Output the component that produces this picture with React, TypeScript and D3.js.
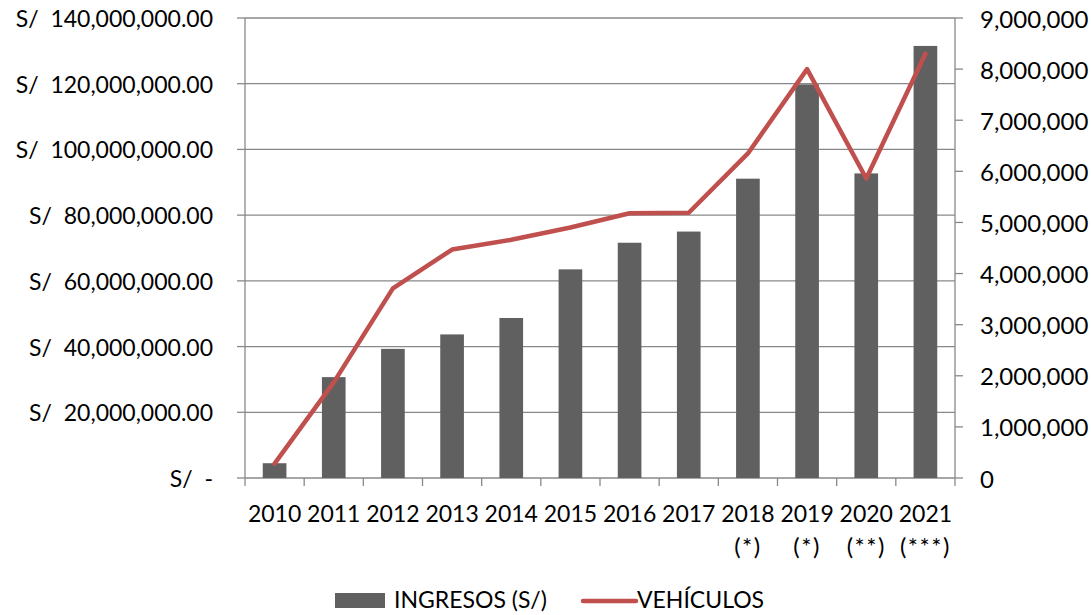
import React from "react";
import * as d3 from "d3";

const years = ["2010", "2011", "2012", "2013", "2014", "2015", "2016", "2017", "2018", "2019", "2020", "2021"];
const yearNotes = ["", "", "", "", "", "", "", "", "(*)", "(*)", "(**)", "(***)"];
const ingresos = [4.5e6, 30.7e6, 39.3e6, 43.7e6, 48.7e6, 63.5e6, 71.6e6, 75.0e6, 91.1e6, 119.8e6, 92.7e6, 131.5e6];
const vehiculos = [0.28e6, 1.87e6, 3.71e6, 4.47e6, 4.66e6, 4.9e6, 5.18e6, 5.19e6, 6.35e6, 8.0e6, 5.86e6, 8.3e6];
const leftTicks = [0, 20e6, 40e6, 60e6, 80e6, 100e6, 120e6, 140e6];
const rightTicks = [0, 1e6, 2e6, 3e6, 4e6, 5e6, 6e6, 7e6, 8e6, 9e6];
const seriesNames = ["INGRESOS (S/)", "VEHÍCULOS"];

const W = 1091;
const H = 615;
const M = { left: 245, right: 955, top: 18, bottom: 478 };
const FONT = "Lato, 'Open Sans', sans-serif";
const GRID = "#898989";
const BAR = "#606060";
const LINE = "#C0504D";

export default function App() {
  const x = d3.scaleBand<string>().domain(years).range([M.left, M.right]).paddingInner(0.6).paddingOuter(0.3);
  const xOuter = d3.scaleBand<string>().domain(years).range([M.left, M.right]);
  const yL = d3.scaleLinear().domain([0, 140e6]).range([M.bottom, M.top]);
  const yR = d3.scaleLinear().domain([0, 9e6]).range([M.bottom, M.top]);
  const fmtL = (v: number) => (v === 0 ? "S/  -" : "S/  " + d3.format(",.2f")(v));
  const fmtR = (v: number) => (v === 0 ? "0" : d3.format(",")(v));
  const line = d3
    .line<number>()
    .x((_, i) => (xOuter(years[i]) as number) + xOuter.bandwidth() / 2)
    .y((d) => yR(d));

  const boundaries = years.map((y) => xOuter(y) as number).concat([M.right]);

  return (
    <svg width={W} height={H} style={{ position: "absolute", left: 0, top: 0, background: "#fff" }} fontFamily={FONT}>
      {/* gridlines */}
      {leftTicks.map((t) => (
        <line key={"g" + t} x1={M.left} x2={M.right} y1={yL(t)} y2={yL(t)} stroke={GRID} strokeWidth={1.3} />
      ))}
      {/* left axis */}
      <line x1={M.left} x2={M.left} y1={M.top} y2={M.bottom} stroke={GRID} strokeWidth={1.3} />
      {leftTicks.map((t) => (
        <g key={"l" + t}>
          <line x1={M.left - 8} x2={M.left} y1={yL(t)} y2={yL(t)} stroke={GRID} strokeWidth={1.3} />
          <text x={213} y={yL(t)} textAnchor="end" dominantBaseline="central" fontSize={23} fill="#000" style={{ whiteSpace: "pre" }}>
            {fmtL(t)}
          </text>
        </g>
      ))}
      {/* right axis */}
      <line x1={M.right} x2={M.right} y1={M.top} y2={M.bottom} stroke={GRID} strokeWidth={1.3} />
      {rightTicks.map((t) => (
        <g key={"r" + t}>
          <line x1={M.right} x2={M.right + 8} y1={yR(t)} y2={yR(t)} stroke={GRID} strokeWidth={1.3} />
          <text x={980} y={yR(t)} textAnchor="start" dominantBaseline="central" fontSize={24} fill="#000">
            {fmtR(t)}
          </text>
        </g>
      ))}
      {/* bottom ticks */}
      {boundaries.map((b, i) => (
        <line key={"b" + i} x1={b} x2={b} y1={M.bottom} y2={M.bottom + 8} stroke={GRID} strokeWidth={1.3} />
      ))}
      {/* bars */}
      {ingresos.map((v, i) => (
        <rect key={"bar" + i} x={x(years[i])} y={yL(v)} width={x.bandwidth()} height={M.bottom - yL(v)} fill={BAR} />
      ))}
      {/* line */}
      <path d={line(vehiculos) || ""} fill="none" stroke={LINE} strokeWidth={4.5} strokeLinejoin="round" strokeLinecap="round" />
      {/* x labels */}
      {years.map((y, i) => {
        const cx = (xOuter(y) as number) + xOuter.bandwidth() / 2;
        return (
          <g key={"x" + y}>
            <text x={cx} y={522} textAnchor="middle" fontSize={23} fill="#000">
              {y}
            </text>
            {yearNotes[i] && (
              <text x={cx} y={555} textAnchor="middle" fontSize={24} letterSpacing={1.5} fill="#000">
                {yearNotes[i]}
              </text>
            )}
          </g>
        );
      })}
      {/* legend */}
      <rect x={335} y={593} width={50} height={15} fill={BAR} />
      <text x={394} y={608} fontSize={23} fill="#000">
        {seriesNames[0]}
      </text>
      <line x1={583} x2={636} y1={601} y2={601} stroke={LINE} strokeWidth={4.5} strokeLinecap="round" />
      <text x={637} y={608} fontSize={23} fill="#000">
        {seriesNames[1]}
      </text>
    </svg>
  );
}
